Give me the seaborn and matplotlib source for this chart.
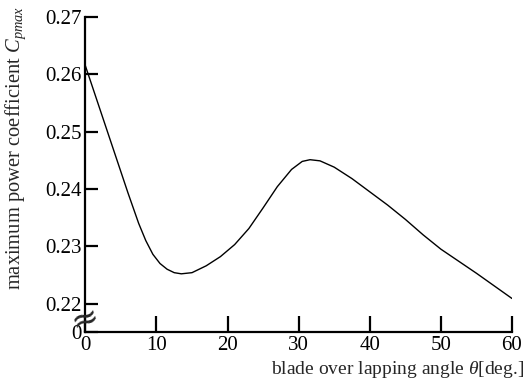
import matplotlib
matplotlib.use("Agg")
import matplotlib.pyplot as plt
import seaborn as sns
import pandas as pd

angle = [0, 2, 4, 6, 7.5, 8.5, 9.5, 10.5, 11.5, 12.5, 13.5, 15, 17, 19, 21, 23, 25, 27,
         29, 30.5, 31.6, 33, 35, 37.5, 40, 42.5, 45, 47.5, 50, 52.5, 55, 57.5, 60]
cpmax = [0.2615, 0.2541, 0.2467, 0.2393, 0.2340, 0.2310, 0.2286, 0.2270, 0.2260, 0.2254,
         0.2252, 0.2254, 0.2266, 0.2282, 0.2303, 0.2331, 0.2367, 0.2404,
         0.2434, 0.2448, 0.2451, 0.2449, 0.2438, 0.2418, 0.2395, 0.2372, 0.2347, 0.2320,
         0.2295, 0.2274, 0.2253, 0.2231, 0.2209]
xticks = [0, 10, 20, 30, 40, 50, 60]
yticks = [0.215, 0.22, 0.23, 0.24, 0.25, 0.26, 0.27]
yticklabels = ["0", "0.22", "0.23", "0.24", "0.25", "0.26", "0.27"]

sns.set_style("ticks")
plt.rcParams["font.family"] = ["Liberation Serif", "DejaVu Serif"]
plt.rcParams["mathtext.fontset"] = "custom"
plt.rcParams["mathtext.rm"] = "Liberation Serif"
plt.rcParams["mathtext.it"] = "Liberation Serif:italic"

df = pd.DataFrame({"angle": angle, "cpmax": cpmax})

fig = plt.figure(figsize=(5.3, 3.8), dpi=100)
ax = fig.add_axes([0.161, 0.1255, 0.805, 0.83])
sns.lineplot(data=df, x="angle", y="cpmax", ax=ax, color="black", linewidth=1.0)

ax.set_xlim(0, 60)
ax.set_ylim(0.215, 0.27)
ax.set_xticks(xticks)
ax.set_xticklabels([str(t) for t in xticks])
ax.set_yticks(yticks)
ax.set_yticklabels(yticklabels)
for s in ["top", "right"]:
    ax.spines[s].set_visible(False)
for s in ["left", "bottom"]:
    ax.spines[s].set_linewidth(1.6)
    ax.spines[s].set_color("black")
ax.tick_params(axis="y", direction="in", length=9, width=1.6, pad=2.5, labelsize=15, colors="black")
ax.tick_params(axis="x", direction="in", length=11.5, width=1.6, pad=3, labelsize=15, colors="black")

ax.set_xlabel(r"blade over lapping angle $\it{\theta}$[deg.]", fontsize=14)
ax.xaxis.set_label_coords(0.731, -0.084)
ax.set_ylabel(r"maximum power coefficient $C_{pmax}$", fontsize=14.8)
ax.yaxis.set_label_coords(-0.135, 0.584)

ax.text(0.0, 0.2174, "≈", transform=ax.transData, fontsize=24, ha="center", va="center",
        rotation=20, clip_on=False, family="DejaVu Sans")

fig.savefig("out.png", dpi=100)
